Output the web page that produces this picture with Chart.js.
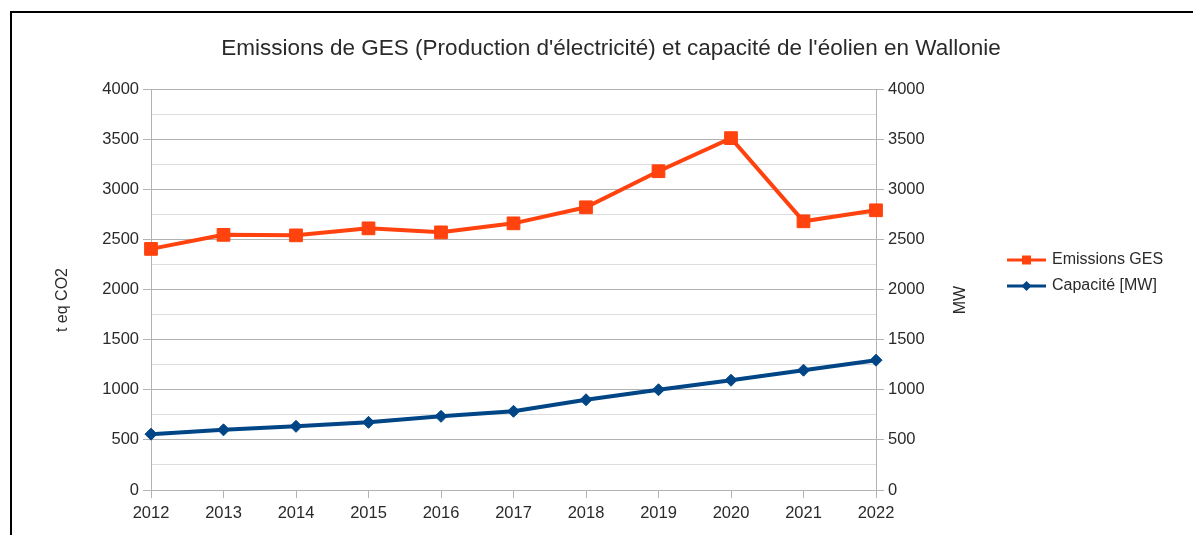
<!DOCTYPE html>
<html><head><meta charset="utf-8">
<script src="https://cdn.jsdelivr.net/npm/chart.js@4/dist/chart.umd.min.js"></script>
<style>
html,body{margin:0;padding:0;background:#fff;}
#frame{position:absolute;left:10px;top:11px;width:1181px;height:600px;border-top:2px solid #000;border-left:2px solid #000;}
#wrap{position:absolute;left:0;top:0;width:1200px;height:535px;}
</style></head><body>
<div id="frame"></div>
<div id="wrap"><canvas id="c" width="1200" height="535"></canvas></div>
<script>
const chartTitle = "Emissions de GES (Production d'électricité) et capacité de l'éolien en Wallonie";
const years = ['2012','2013','2014','2015','2016','2017','2018','2019','2020','2021','2022'];
const emissions = [2405, 2545, 2540, 2610, 2570, 2660, 2820, 3180, 3510, 2680, 2790];
const capacity = [557, 600, 635, 675, 735, 785, 900, 1000, 1095, 1195, 1295];
const seriesNames = ['Emissions GES', 'Capacité [MW]'];
const leftAxisTitle = 't eq CO2';
const rightAxisTitle = 'MW';
const axisMin = 0, axisMax = 4000, majorStep = 500, minorStep = 250;

const FONT = '"Liberation Sans", Arial, sans-serif';
const TXT = '#2a2a2a';
const ORANGE = '#ff420e';
const BLUE = '#004586';

const isMajor = v => v % majorStep === 0;

function yScale(position, width, showGrid) {
  return {
    type: 'linear', position: position, min: axisMin, max: axisMax,
    afterFit: s => { s.width = width; },
    ticks: { stepSize: minorStep, autoSkip: false, padding: 4,
      color: TXT, font: { family: FONT, size: 16.5 },
      callback: v => isMajor(v) ? String(v) : '' },
    grid: { drawOnChartArea: showGrid, tickLength: 8, lineWidth: 1,
      color: c => (c.tick && isMajor(c.tick.value)) ? '#b3b3b3' : '#dddddd',
      tickColor: c => (c.tick && isMajor(c.tick.value)) ? '#b3b3b3' : 'rgba(0,0,0,0)' },
    border: { color: '#b3b3b3', width: 1 },
    title: { display: false }
  };
}

const extras = {
  id: 'extras',
  afterDraw(chart) {
    const ctx = chart.ctx;
    ctx.save();
    ctx.fillStyle = TXT;
    ctx.font = '16px ' + FONT;
    ctx.textAlign = 'center';
    ctx.textBaseline = 'middle';
    [[leftAxisTitle, 63], [rightAxisTitle, 961]].forEach(([t, x]) => {
      ctx.save(); ctx.translate(x, 300); ctx.rotate(-Math.PI / 2); ctx.fillText(t, 0, 0); ctx.restore();
    });
    chart.data.datasets.forEach((ds, i) => {
      const y = 260 + i * 26;
      ctx.strokeStyle = ds.borderColor; ctx.lineWidth = 3;
      ctx.beginPath(); ctx.moveTo(1007, y); ctx.lineTo(1046, y); ctx.stroke();
      ctx.fillStyle = ds.borderColor;
      ctx.beginPath();
      if (ds.pointStyle === 'rect') { ctx.rect(1022, y - 4.5, 9, 9); }
      else { ctx.moveTo(1026.5, y - 5); ctx.lineTo(1031.5, y); ctx.lineTo(1026.5, y + 5); ctx.lineTo(1021.5, y); ctx.closePath(); }
      ctx.fill();
      ctx.fillStyle = TXT; ctx.textAlign = 'left';
      ctx.fillText(ds.label, 1052, y);
    });
    ctx.restore();
  }
};

new Chart(document.getElementById('c'), {
  type: 'line',
  data: {
    labels: years,
    datasets: [
      { label: seriesNames[0], data: emissions, yAxisID: 'y', borderColor: ORANGE, backgroundColor: ORANGE,
        borderWidth: 4, pointStyle: 'rect', pointRadius: 9, pointBorderWidth: 1, pointHoverRadius: 9, tension: 0 },
      { label: seriesNames[1], data: capacity, yAxisID: 'y2', borderColor: BLUE, backgroundColor: BLUE,
        borderWidth: 4, pointStyle: 'rectRot', pointRadius: 6, pointBorderWidth: 1, pointHoverRadius: 6, tension: 0 }
    ]
  },
  options: {
    responsive: false, animation: false, devicePixelRatio: 1,
    layout: { padding: { left: 22, right: 0, top: 0, bottom: 0 } },
    plugins: {
      legend: { display: false },
      tooltip: { enabled: false },
      title: { display: true, text: chartTitle, color: TXT,
        font: { family: FONT, size: 22.5, weight: 'normal' }, padding: { top: 35, bottom: 27 } }
    },
    scales: {
      x: { type: 'category', offset: false,
        afterFit: s => { s.height = 45; },
        ticks: { color: TXT, font: { family: FONT, size: 16.5 }, padding: 6, maxRotation: 0, autoSkip: false },
        grid: { drawOnChartArea: false, tickLength: 8, color: '#b3b3b3', tickColor: '#b3b3b3' },
        border: { color: '#b3b3b3', width: 1 } },
      y: yScale('left', 129, true),
      y2: yScale('right', 324, false)
    }
  },
  plugins: [extras]
});
</script>
</body></html>
